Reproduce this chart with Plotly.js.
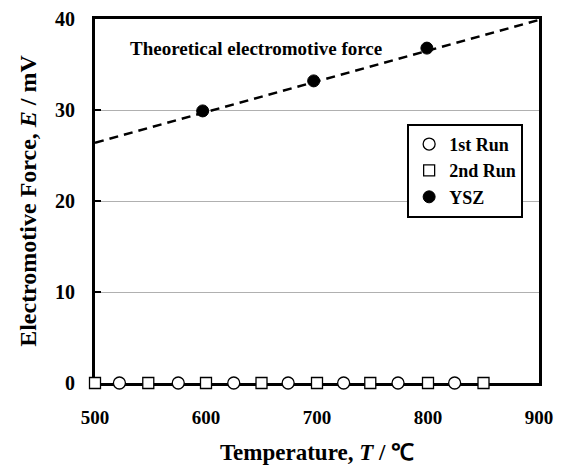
<!DOCTYPE html>
<html><head><meta charset="utf-8">
<script src="https://cdn.plot.ly/plotly-3.0.1.min.js"></script>
<style>html,body{margin:0;padding:0;background:#fff}</style>
</head><body><div id="chart" style="width:563px;height:467px"></div>
<script>
var run1T = [522, 575, 625, 674, 724, 773, 824];
var run1E = [0, 0, 0, 0, 0, 0, 0];
var run2T = [500, 548, 600, 650, 700, 748, 800, 850];
var run2E = [0, 0, 0, 0, 0, 0, 0, 0];
var yszT = [597, 697, 799];
var yszE = [29.9, 33.2, 36.8];
var theoT = [500, 900];
var theoE = [26.4, 39.9];

var font = 'Liberation Serif, Times New Roman, serif';
var traces = [
  {x: theoT, y: theoE, mode: 'lines', line: {color: 'black', width: 2.5, dash: '9px,6px'}, showlegend: false, hoverinfo: 'skip'},
  {x: run1T, y: run1E, mode: 'markers', name: '1st Run', cliponaxis: false,
   marker: {symbol: 'circle', size: 12, color: 'white', line: {color: 'black', width: 1.3}}},
  {x: run2T, y: run2E, mode: 'markers', name: '2nd Run', cliponaxis: false,
   marker: {symbol: 'square', size: 11, color: 'white', line: {color: 'black', width: 1.3}}},
  {x: yszT, y: yszE, mode: 'markers', name: 'YSZ', cliponaxis: false,
   marker: {symbol: 'circle', size: 12, color: 'black', line: {color: 'black', width: 1}}}
];
var layout = {
  width: 563, height: 467,
  margin: {l: 95, r: 24, t: 19, b: 84},
  paper_bgcolor: 'white', plot_bgcolor: 'white',
  font: {family: font, size: 16, color: 'black'},
  xaxis: {range: [500, 900], dtick: 100, tick0: 500, showgrid: false, zeroline: false,
    showline: true, linecolor: 'black', linewidth: 3, mirror: true, layer: 'below traces',
    ticks: 'inside', ticklen: 6, tickwidth: 2, tickcolor: 'black', ticklabelstandoff: 15,
    tickfont: {family: font, size: 19, weight: 700},
    title: {text: '<b>Temperature, <i>T</i> / ℃</b>', font: {family: font, size: 23}, standoff: 18}},
  yaxis: {range: [0, 40], dtick: 10, showgrid: true, gridcolor: '#b0b0b0', gridwidth: 1, zeroline: false,
    showline: true, linecolor: 'black', linewidth: 3, mirror: true, layer: 'below traces',
    ticks: 'inside', ticklen: 6, tickwidth: 2, tickcolor: 'black', ticklabelstandoff: 13,
    tickfont: {family: font, size: 20, weight: 700},
    title: {text: '<b>Electromotive Force, <i>E</i> / mV</b>', font: {family: font, size: 24}, standoff: 12}},
  legend: {x: 0.703, y: 0.712, xanchor: 'left', yanchor: 'top', bgcolor: 'white',
    bordercolor: 'black', borderwidth: 2, font: {family: font, size: 18, weight: 700},
    tracegroupgap: 2, itemwidth: 30},
  annotations: [{xref: 'paper', yref: 'paper', x: 0.074, y: 0.918, xanchor: 'left', yanchor: 'middle',
    text: '<b>Theoretical electromotive force</b>', showarrow: false, font: {family: font, size: 19}}],
  showlegend: true
};
Plotly.newPlot('chart', traces, layout, {displayModeBar: false, staticPlot: true});
</script></body></html>
